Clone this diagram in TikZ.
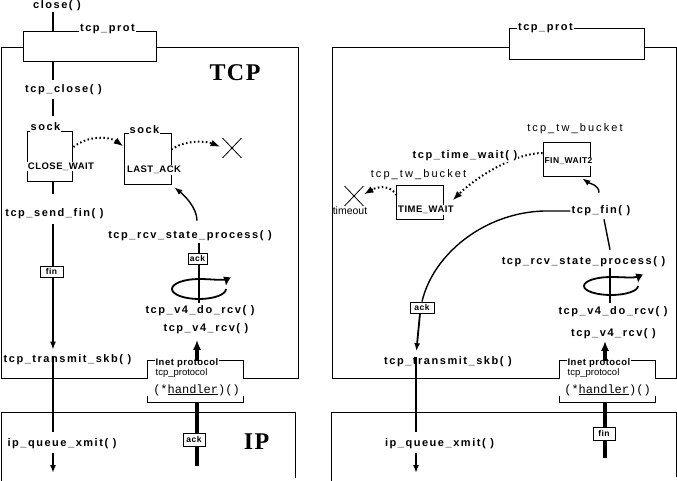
\documentclass[tikz,border=0pt]{standalone}
\usepackage{fontspec}
\setmainfont{Liberation Sans}
\newfontfamily\fnfont[LetterSpace=14]{Liberation Sans}
\newfontfamily\tagfont[LetterSpace=14]{Liberation Sans}
\newfontfamily\twfont[LetterSpace=19]{Liberation Sans}
\newfontfamily\stfont[LetterSpace=5]{Liberation Sans}
\newfontfamily\bigfont[LetterSpace=6]{Liberation Serif}
\newfontfamily\courfont{Liberation Mono}
\usetikzlibrary{arrows.meta,shapes.misc}
\tikzset{
  frame/.style={line width=0.8pt},
  fn/.style={font={\fnfont\bfseries\fontsize{11}{13}\selectfont}, inner sep=1pt},
  tag/.style={font={\tagfont\bfseries\fontsize{11}{12}\selectfont}, fill=white, inner sep=1pt},
  twlbl/.style={font={\twfont\fontsize{11}{13}\selectfont}, inner sep=1pt},
  statelbl/.style={font={\stfont\bfseries\fontsize{9.5}{11}\selectfont}, fill=white, inner sep=1pt},
  inetlbl/.style={font={\stfont\bfseries\fontsize{9.5}{11}\selectfont}, fill=white, inner sep=1pt},
  smalllbl/.style={font={\fontsize{9.5}{11}\selectfont}, inner sep=1pt},
  hndlbl/.style={font={\courfont\fontsize{12}{14}\selectfont}, inner sep=1pt},
  biglbl/.style={font={\bigfont\bfseries\fontsize{24}{26}\selectfont}, inner sep=0pt},
  pkt/.style={draw, fill=white, line width=0.8pt, inner sep=0pt, minimum width=22pt, minimum height=11pt,
              font={\stfont\bfseries\fontsize{8.5}{9}\selectfont}},
  objbox/.style={draw, line width=0.8pt, fill=white, inner sep=0pt},
  whitebox/.style={fill=white, inner sep=0pt},
  conn/.style={line width=1.8pt},
  midc/.style={line width=1.4pt},
  thickc/.style={line width=3.5pt},
  arr/.style={-{Latex[length=8pt,width=6pt]}},
  bigarr/.style={-{Latex[length=10pt,width=8pt]}},
  looparr/.style={line width=1.8pt, -{Latex[length=9pt,width=8pt]}},
  dotarr/.style={line width=2pt, dash pattern=on 1.5pt off 2.5pt, -{Latex[length=10pt,width=7pt]}},
  dotline/.style={draw=black, line width=2pt, dash pattern=on 1.5pt off 2.5pt},
  headarr/.style={draw=black, line width=1pt, -{Latex[length=9pt,width=7pt]}},
  xmark/.style={cross out, draw, line width=0.8pt, inner sep=0pt, minimum width=18pt, minimum height=19pt},
}
\begin{document}
\begin{tikzpicture}[x=1pt,y=-1pt]
\useasboundingbox (0,0) rectangle (677,481);
% ---------- layer frames ----------
\draw[frame] (1,47) rectangle (298,378);
\draw[frame] (332,47) rectangle (676,378);
\draw[frame] (1,481) -- (1,412) -- (295,412) -- (295,478);
\draw[frame] (331,481) -- (331,412) -- (676,412) -- (676,477);
% ---------- tcp_prot boxes ----------
\node[objbox, minimum width=133pt, minimum height=30pt] (protL) at (89.5,46) {};
\node[objbox, minimum width=135pt, minimum height=31pt] (protR) at (576.5,43.5) {};
\node[tag] (protLl) at (107.5,29) {tcp\_prot};
\node[tag] (protRl) at (545.5,28.5) {tcp\_prot};
% ---------- inet protocol boxes ----------
\node[whitebox, minimum width=95pt, minimum height=41pt] (hL) at (195.5,381.5) {};
\node[whitebox, minimum width=95pt, minimum height=41pt] (hR) at (607.5,381.5) {};
\draw[frame] (hL.north west) ++(0,18) -- (hL.north west) -- (hL.north east) -- ++(0,18);
\draw[frame] (hL.south west) ++(0,-6) -- (hL.south west) -- (hL.south east) -- ++(0,-6);
\draw[frame] (hR.north west) ++(0,18) -- (hR.north west) -- (hR.north east) -- ++(0,18);
\draw[frame] (hR.south west) ++(0,-6) -- (hR.south west) -- (hR.south east) -- ++(0,-6);
\node[inetlbl] (inetL) at (187,363.5) {Inet protocol};
\node[smalllbl] (tpL) at (181.5,373.5) {tcp\_protocol};
\node[hndlbl] (hndL) at (196.5,390) {(*\underline{handler})()};
\node[inetlbl] (inetR) at (599,363.5) {Inet protocol};
\node[smalllbl] (tpR) at (593.5,373.5) {tcp\_protocol};
\node[hndlbl] (hndR) at (607.5,390) {(*\underline{handler})()};
% ---------- layer names ----------
\node[biglbl] (tcpT) at (235,72.5) {TCP};
\node[biglbl] (ipT) at (256.5,442) {IP};
% ================= LEFT PANEL =================
\node[fn] (close) at (57,6) {close( )};
\node[fn] (tcpclose) at (63.5,90) {tcp\_close( )};
\node[fn] (sendfin) at (54.5,213.5) {tcp\_send\_fin( )};
\node[fn] (xmitL) at (67.5,360) {tcp\_transmit\_skb( )};
\node[fn] (ipqL) at (62,444) {ip\_queue\_xmit( )};
\node[fn] (rsp) at (190,236) {tcp\_rcv\_state\_process( )};
\node[fn] (dorcv) at (200,311) {tcp\_v4\_do\_rcv( )};
\node[fn] (v4rcv) at (206,328.5) {tcp\_v4\_rcv( )};
% sock boxes
\node[objbox, minimum width=45pt, minimum height=50pt] (sockA) at (49.5,156) {};
\node[objbox, minimum width=47pt, minimum height=51pt] (sockB) at (147.5,158.5) {};
\node[tag] (sockAl) at (45.5,127) {sock};
\node[tag] (sockBl) at (144.5,129.5) {sock};
\node[statelbl] (cwait) at (61,166.5) {CLOSE\_WAIT};
\node[statelbl] (lack) at (154,170) {LAST\_ACK};
\node[xmark] (xL) at (232,148) {};
% column connectors
\coordinate (colL) at (53,0);
\coordinate (endL) at (53,473);
\draw[conn] (colL |- close.south) -- (colL |- protL.north);
\draw[conn, shorten >=4pt] (colL |- protL.south) -- (colL |- tcpclose.north);
\draw[conn, shorten <=3pt, shorten >=15pt] (colL |- tcpclose.south) -- (colL |- sockA.north);
\draw[conn, shorten >=13pt] (colL |- sockA.south) -- (colL |- sendfin.north);
\draw[conn, arr, shorten <=4pt, shorten >=4pt] (colL |- sendfin.south) -- (colL |- xmitL.north);
\draw[conn, shorten <=2pt, shorten >=6pt] (colL |- xmitL.north) -- (colL |- ipqL.north);
\draw[conn, arr, shorten <=3pt] (colL |- ipqL.south) -- (endL);
\node[pkt, minimum width=23pt] (finL) at (51.5,271.5) {fin};
% dotted state transitions
\draw[dotarr] ([shift={(1,-9)}]sockA.east) .. controls +(15,-12) and +(-14,-10) .. ([shift={(0,-12)}]sockB.west);
\draw[dotarr] ([shift={(0,-9)}]sockB.east) .. controls +(14,-10) and +(-14,-6) .. ([shift={(-2,-1)}]xL.west);
% receive path
\draw[midc, arr] ([shift={(7,-9)}]rsp.north) .. controls +(0,-13) and +(10,8) .. ([shift={(3,3)}]sockB.south east);
\coordinate (colR) at (199,0);
\draw[conn, shorten <=1pt, shorten >=2pt] (colR |- rsp.south) -- (colR |- dorcv.north);
\node[pkt, minimum width=19pt] (ackL) at (197.5,258.5) {ack};
\draw[looparr] (226,289) .. controls (226,294.5) and (213.9,299) .. (199,299)
   .. controls (184.1,299) and (172,294.5) .. (172,289)
   .. controls (172,283.5) and (184.1,279) .. (199,279)
   .. controls (213.9,279) and (226.5,281.5) .. (226,286);
\coordinate (colH) at (197,0);
\coordinate (ipinL) at (197,466);
\draw[thickc, bigarr, shorten >=5pt] (colH |- hL.north) -- (colH |- v4rcv.south);
\draw[thickc] (colH |- hL.south) -- (ipinL);
\node[pkt, minimum width=22pt, minimum height=13pt] (ackIP) at (194,439.5) {ack};
% ================= RIGHT PANEL =================
\node[fn] (finR) at (601,211) {tcp\_fin( )};
\node[fn] (rspR) at (583.5,262) {tcp\_rcv\_state\_process( )};
\node[fn] (dorcvR) at (613,312) {tcp\_v4\_do\_rcv( )};
\node[fn] (v4rcvR) at (613.5,333.5) {tcp\_v4\_rcv( )};
\node[fn] (xmitR) at (448,361.5) {tcp\_transmit\_skb( )};
\node[fn] (ipqR) at (439.5,444) {ip\_queue\_xmit( )};
% tw buckets
\node[objbox, minimum width=47pt, minimum height=34pt] (finW) at (566.5,159) {};
\node[objbox, minimum width=47pt, minimum height=34pt] (twB) at (419.5,202) {};
\node[twlbl] (twtop) at (575,128.5) {tcp\_tw\_bucket};
\node[twlbl] (twlow) at (418.5,175) {tcp\_tw\_bucket};
\node[statelbl, font={\stfont\bfseries\fontsize{8.5}{10}\selectfont}] (fw2) at (568.5,161.5) {FIN\_WAIT2};
\node[statelbl] (tw) at (426,210) {TIME\_WAIT};
\node[xmark] (xR) at (354,196) {};
\node[font={\fontsize{10.5}{12}\selectfont}, inner sep=1pt] (tout) at (350,210.5) {timeout};
% dotted transitions
\draw[dotarr] ([shift={(0,-6)}]finW.west) .. controls +(-28,0) and +(23,-23) .. ([shift={(9,16)}]twB.north east);
\node[fn, fill=white] (twait) at (465,155.5) {tcp\_time\_wait( )};
\coordinate (twdot) at (373,189);
\draw[dotline] ([shift={(1,-7)}]twB.west) .. controls +(-6,-9) and +(8,-3) .. (twdot);
\draw[headarr] (twdot) -- ([shift={(1,-2)}]xR.east);
% tcp_fin connections
\draw[midc, arr] ([shift={(-2,-12)}]finR.north) .. controls +(0,-8) and +(7,5) .. ([shift={(-8,2)}]finW.south east);
\draw[midc] ([shift={(3,2)}]finR.south) -- ([shift={(26.5,-6)}]rspR.north);
\node[pkt, minimum width=24pt] (ackR) at (422,307.5) {ack};
\draw[midc] (finR.west) -- ++(-27,0) .. controls +(-60,2) and +(11,-47) .. (ackR.north);
\coordinate (colX) at (416,0);
\coordinate (endR) at (416,473);
\draw[conn, arr, shorten >=4pt] ([xshift=-2pt]ackR.south) -- (colX |- xmitR.north);
\draw[conn, shorten <=2pt, shorten >=6pt] (colX |- xmitR.north) -- (colX |- ipqR.north);
\draw[conn, arr, shorten <=3pt] (colX |- ipqR.south) -- (endR);
% receive loop
\coordinate (colRR) at (610,0);
\draw[conn, shorten >=3pt] (colRR |- rspR.south) -- (colRR |- dorcvR.north);
\draw[looparr] (638,286) .. controls (638,291) and (625.9,295) .. (611,295)
   .. controls (596.1,295) and (584,291) .. (584,286)
   .. controls (584,281) and (596.1,277) .. (611,277)
   .. controls (625.9,277) and (638.5,279) .. (638,283);
\coordinate (colHR) at (605,0);
\coordinate (ipinR) at (605,458);
\draw[thickc, bigarr, shorten >=1pt] (colHR |- hR.north) -- (colHR |- v4rcvR.south);
\draw[thickc] (colHR |- hR.south) -- (ipinR);
\node[pkt, minimum width=22pt, minimum height=13pt] (finIP) at (604,433.5) {fin};
\end{tikzpicture}
\end{document}
